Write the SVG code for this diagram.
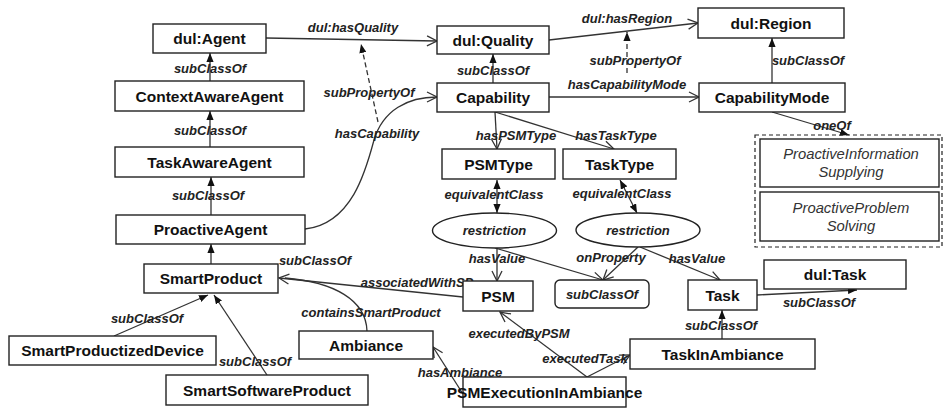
<svg xmlns="http://www.w3.org/2000/svg" width="943" height="410" viewBox="0 0 943 410">
<style>
.box{fill:#fff;stroke:#222;stroke-width:1.4}
.nl{font-family:"Liberation Sans",Arial,sans-serif;font-weight:bold;font-size:15.5px;fill:#111;text-anchor:middle}
.il{font-family:"Liberation Sans",Arial,sans-serif;font-weight:bold;font-style:italic;font-size:13px;fill:#222;text-anchor:middle}
.el{font-family:"Liberation Sans",Arial,sans-serif;font-weight:bold;font-style:italic;font-size:13px;fill:#222;text-anchor:middle}
.ol{font-family:"Liberation Sans",Arial,sans-serif;font-style:italic;font-size:14.8px;fill:#333;text-anchor:middle}
.e{fill:none;stroke:#333;stroke-width:1.3}
.f{marker-end:url(#fill)}
.o{marker-end:url(#open)}
.d{stroke-dasharray:5,3}
</style>
<defs>
<marker id="fill" viewBox="0 0 10 8" refX="10" refY="4" markerWidth="9" markerHeight="7.5" markerUnits="userSpaceOnUse" orient="auto-start-reverse">
<path d="M0,0 L10,4 L0,8 z" fill="#111"/>
</marker>
<marker id="open" viewBox="0 0 12 12" refX="11" refY="6" markerWidth="12" markerHeight="12" markerUnits="userSpaceOnUse" orient="auto">
<path d="M1,1 L11,6 L1,11" fill="none" stroke="#333" stroke-width="1.3"/>
</marker>
</defs>

<g id="connectors">
<line class="e o" x1="266" y1="38" x2="437" y2="41"/>
<line class="e o" x1="549" y1="40" x2="698" y2="23"/>
<line class="e d f" x1="627" y1="73" x2="627" y2="32"/>
<line class="e d f" x1="378" y1="122" x2="361" y2="44"/>
<line class="e f" x1="493" y1="83" x2="493" y2="54"/>
<line class="e o" x1="549" y1="97" x2="699" y2="97"/>
<line class="e f" x1="772" y1="83" x2="772" y2="38"/>
<line class="e f" x1="772" y1="112" x2="849" y2="135"/>
<line class="e f" x1="210" y1="81" x2="210" y2="53"/>
<line class="e f" x1="210" y1="147" x2="210" y2="111"/>
<line class="e f" x1="211" y1="215" x2="211" y2="177"/>
<line class="e f" x1="211" y1="264" x2="211" y2="244"/>
<path class="e o" d="M305,229 C352,224 366,170 374,140 C383,110 408,97 437,97"/>
<line class="e f" x1="114" y1="336" x2="208" y2="295"/>
<line class="e f" x1="267" y1="375" x2="214" y2="295"/>
<line class="e o" x1="463" y1="297" x2="279" y2="278"/>
<path class="e" d="M367,331 C366,300 334,282 285,278"/>
<line class="e o" x1="463" y1="394" x2="433" y2="347"/>
<line class="e o" x1="587" y1="377" x2="500" y2="312"/>
<line class="e o" x1="587" y1="377" x2="630" y2="355"/>
<line class="e f" x1="722" y1="339" x2="722" y2="310"/>
<line class="e f" x1="757" y1="295" x2="857" y2="290"/>
<line class="e o" x1="495" y1="112" x2="497" y2="149"/>
<line class="e o" x1="495" y1="112" x2="614" y2="149"/>
<line class="e f" x1="497" y1="180" x2="497" y2="213" marker-start="url(#fill)"/>
<line class="e f" x1="620" y1="180" x2="637" y2="213" marker-start="url(#fill)"/>
<line class="e o" x1="497" y1="248" x2="497" y2="281"/>
<line class="e o" x1="495" y1="248" x2="603" y2="280"/>
<line class="e o" x1="638" y1="247" x2="603" y2="280"/>
<line class="e o" x1="640" y1="247" x2="720" y2="280"/>
</g>

<g id="edge-labels">
<text class="el" x="353" y="32">dul:hasQuality</text>
<text class="el" x="627" y="23">dul:hasRegion</text>
<text class="el" x="635" y="65">subPropertyOf</text>
<text class="el" x="493" y="75">subClassOf</text>
<text class="el" x="627" y="89">hasCapabilityMode</text>
<text class="el" x="369" y="97">subPropertyOf</text>
<text class="el" x="377" y="138">hasCapability</text>
<text class="el" x="808" y="65">subClassOf</text>
<text class="el" x="832" y="130">oneOf</text>
<text class="el" x="210" y="73">subClassOf</text>
<text class="el" x="210" y="135">subClassOf</text>
<text class="el" x="208" y="200">subClassOf</text>
<text class="el" x="315" y="265">subClassOf</text>
<text class="el" x="147" y="323">subClassOf</text>
<text class="el" x="255" y="366">subClassOf</text>
<text class="el" x="417" y="287">associatedWithSP</text>
<text class="el" x="371" y="317">containsSmartProduct</text>
<text class="el" x="519" y="338">executedByPSM</text>
<text class="el" x="585" y="363">executedTask</text>
<text class="el" x="460" y="377">hasAmbiance</text>
<text class="el" x="516" y="140">hasPSMType</text>
<text class="el" x="616" y="140">hasTaskType</text>
<text class="el" x="494" y="199">equivalentClass</text>
<text class="el" x="622" y="198">equivalentClass</text>
<text class="el" x="497" y="263">hasValue</text>
<text class="el" x="611" y="262">onProperty</text>
<text class="el" x="697" y="263">hasValue</text>
<text class="el" x="819" y="307">subClassOf</text>
<text class="el" x="721" y="330">subClassOf</text>
</g>

<g id="dul-Agent"><rect class="box" x="153" y="24" width="113" height="29"/><text class="nl" x="209.5" y="44">dul:Agent</text></g>
<g id="ContextAwareAgent"><rect class="box" x="115" y="81" width="189" height="30"/><text class="nl" x="209.5" y="101.5">ContextAwareAgent</text></g>
<g id="TaskAwareAgent"><rect class="box" x="115" y="147" width="189" height="30"/><text class="nl" x="209.5" y="167.5">TaskAwareAgent</text></g>
<g id="ProactiveAgent"><rect class="box" x="116" y="215" width="189" height="29"/><text class="nl" x="210.5" y="235">ProactiveAgent</text></g>
<g id="SmartProduct"><rect class="box" x="144" y="264" width="134" height="29"/><text class="nl" x="211" y="284">SmartProduct</text></g>
<g id="SmartProductizedDevice"><rect class="box" x="9" y="336" width="207" height="29"/><text class="nl" x="112.5" y="356">SmartProductizedDevice</text></g>
<g id="SmartSoftwareProduct"><rect class="box" x="166" y="375" width="202" height="30"/><text class="nl" x="267" y="395.5">SmartSoftwareProduct</text></g>
<g id="Ambiance"><rect class="box" x="299" y="331" width="134" height="28"/><text class="nl" x="366" y="350.5">Ambiance</text></g>
<g id="PSMExecutionInAmbiance"><rect class="box" x="463" y="377" width="163" height="30"/><text class="nl" x="544.5" y="397.5">PSMExecutionInAmbiance</text></g>
<g id="PSM"><rect class="box" x="463" y="281" width="70" height="30"/><text class="nl" x="498" y="301.5">PSM</text></g>
<g id="subClassOf-box"><rect class="box" x="555" y="280" width="94" height="28" rx="5"/><text class="il" x="602" y="299">subClassOf</text></g>
<g id="Task"><rect class="box" x="688" y="280" width="69" height="30"/><text class="nl" x="722.5" y="300.5">Task</text></g>
<g id="dul-Task"><rect class="box" x="764" y="260" width="142" height="29"/><text class="nl" x="835" y="280">dul:Task</text></g>
<g id="TaskInAmbiance"><rect class="box" x="630" y="339" width="185" height="30"/><text class="nl" x="722.5" y="359.5">TaskInAmbiance</text></g>
<g id="restriction-1"><ellipse class="box" cx="494.5" cy="230.5" rx="62" ry="17.5"/><text class="il" x="494.5" y="235">restriction</text></g>
<g id="restriction-2"><ellipse class="box" cx="638" cy="230" rx="62" ry="17"/><text class="il" x="638" y="234.5">restriction</text></g>
<g id="PSMType"><rect class="box" x="442" y="149" width="113" height="30"/><text class="nl" x="498.5" y="169.5">PSMType</text></g>
<g id="TaskType"><rect class="box" x="563" y="149" width="113" height="30"/><text class="nl" x="619.5" y="169.5">TaskType</text></g>
<g id="Capability"><rect class="box" x="437" y="83" width="112" height="29"/><text class="nl" x="493" y="103">Capability</text></g>
<g id="dul-Quality"><rect class="box" x="437" y="26" width="112" height="28"/><text class="nl" x="493" y="45.5">dul:Quality</text></g>
<g id="dul-Region"><rect class="box" x="698" y="8" width="146" height="30"/><text class="nl" x="771" y="28.5">dul:Region</text></g>
<g id="CapabilityMode"><rect class="box" x="699" y="83" width="146" height="29"/><text class="nl" x="772" y="103">CapabilityMode</text></g>
<g id="oneOf-set">
<rect x="755" y="135" width="187" height="112" fill="none" stroke="#222" stroke-width="1.2" stroke-dasharray="4,3"/>
<g id="ProactiveInformationSupplying"><rect class="box" x="760" y="139" width="179" height="48"/><text class="ol" x="851" y="159">ProactiveInformation</text><text class="ol" x="851" y="177">Supplying</text></g>
<g id="ProactiveProblemSolving"><rect class="box" x="760" y="192" width="179" height="49"/><text class="ol" x="851" y="213">ProactiveProblem</text><text class="ol" x="851" y="231">Solving</text></g>
</g>
</svg>
